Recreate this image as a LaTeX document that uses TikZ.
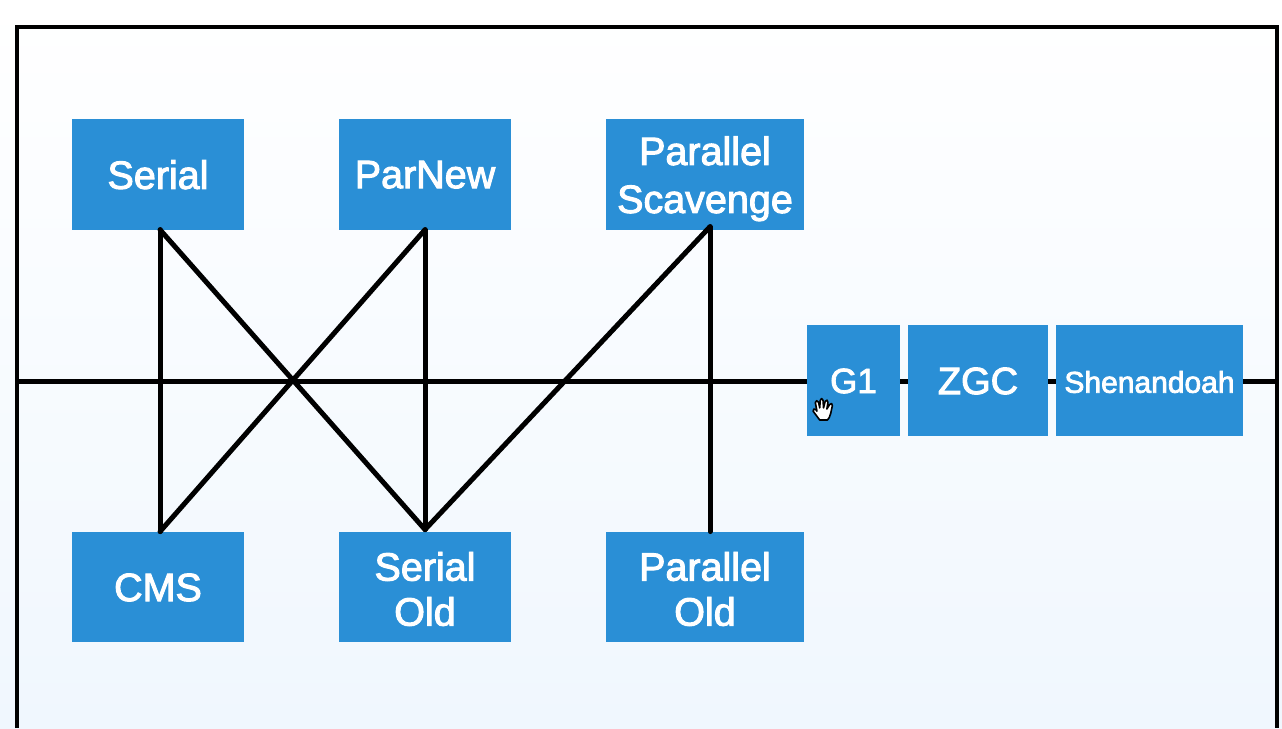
\documentclass[tikz,border=0pt]{standalone}
\usepackage{fontspec}
\setmainfont[FakeBold=2.5]{Liberation Sans}
\definecolor{boxblue}{HTML}{2A8FD6}
\definecolor{bgtop}{HTML}{FFFFFF}
\definecolor{bgbot}{HTML}{F0F7FE}
\tikzset{
  gcbox/.style={fill=boxblue,draw=none,inner sep=0pt,minimum height=110.5pt},
  gctext/.style={text=white,inner sep=0pt,align=center,font=\fontsize{39.5}{45}\selectfont},
  wire/.style={line width=5pt,black,line cap=round},
  framewire/.style={line width=4pt,black,line cap=butt,line join=miter}
}
\begin{document}
\begin{tikzpicture}[x=1pt,y=-1pt]
\useasboundingbox (0,0) rectangle (1282,728);
\shade[top color=bgtop,bottom color=bgbot] (0,0) rectangle (1282,728);
% frame
\draw[framewire] (17,728) -- (17,27) -- (1277,27) -- (1277,728);
\coordinate (mleft) at (17,381);
\coordinate (mright) at (1277,381);
\draw[framewire,line width=5pt] (mleft) -- (mright);
% boxes
\node[gcbox,minimum width=172pt,label={[gctext,yshift=-0.5pt]center:Serial}] (serial) at (158,174.25) {};
\node[gcbox,minimum width=172pt,label={[gctext,yshift=-0.5pt]center:ParNew}] (parnew) at (425,174.25) {};
\node[gcbox,minimum width=198pt,label={[gctext,yshift=-4.5pt]center:Parallel\\[3pt]Scavenge}] (pscav) at (705,174.25) {};
\node[gcbox,minimum width=172pt,label={[gctext,yshift=-0.5pt]center:CMS}] (cms) at (158,587) {};
\node[gcbox,minimum width=172pt,label={[gctext,yshift=-2pt]center:Serial\\Old}] (sold) at (425,587) {};
\node[gcbox,minimum width=198pt,label={[gctext,yshift=-2pt]center:Parallel\\Old}] (pold) at (705,587) {};
\node[gcbox,minimum width=93pt,label={[gctext,yshift=-0.5pt,font=\fontsize{35}{40}\selectfont]center:G1}] (g1) at (853.5,380.5) {};
\node[gcbox,minimum width=140pt,label={[gctext,yshift=-0.5pt,font=\fontsize{38}{44}\selectfont]center:ZGC}] (zgc) at (978,380.5) {};
\node[gcbox,minimum width=187pt,label={[gctext,yshift=-1.5pt,font=\fontsize{30}{36}\selectfont]center:Shenandoah}] (shen) at (1149.5,380.5) {};
% connectors
\draw[wire] ([xshift=2pt]serial.south) -- ([xshift=2pt]cms.north);
\draw[wire] ([xshift=2pt]serial.south) -- ([yshift=2pt]sold.north);
\draw[wire] (parnew.south) -- ([xshift=2pt]cms.north);
\draw[wire] (parnew.south) -- ([yshift=2pt]sold.north);
\draw[wire] ([xshift=5pt,yshift=3pt]pscav.south) -- ([yshift=2pt]sold.north);
\draw[wire] ([xshift=5pt,yshift=3pt]pscav.south) -- ([xshift=5pt]pold.north);
% hand cursor
\begin{scope}[shift={(823,409)},scale=1.1]
\draw[black,fill=white,line width=1.6pt,line join=round]
  (-3,10) -- (-9,2) .. controls (-10,0) and (-7,-1) .. (-6,1) -- (-5.5,2)
  -- (-7,-6) .. controls (-7,-8) and (-4.5,-8) .. (-4,-6) -- (-3,-1)
  -- (-2.5,-8) .. controls (-2.5,-10) and (0,-10) .. (0,-8) -- (0.5,-1)
  -- (2,-7) .. controls (2.5,-9) and (5,-8) .. (4.5,-6) -- (3.5,0)
  -- (6,-4) .. controls (7,-6) and (9,-5) .. (8.5,-3) -- (7,4)
  .. controls (6.5,7) and (5,9) .. (4,10) -- cycle;
\end{scope}
\end{tikzpicture}
\end{document}
